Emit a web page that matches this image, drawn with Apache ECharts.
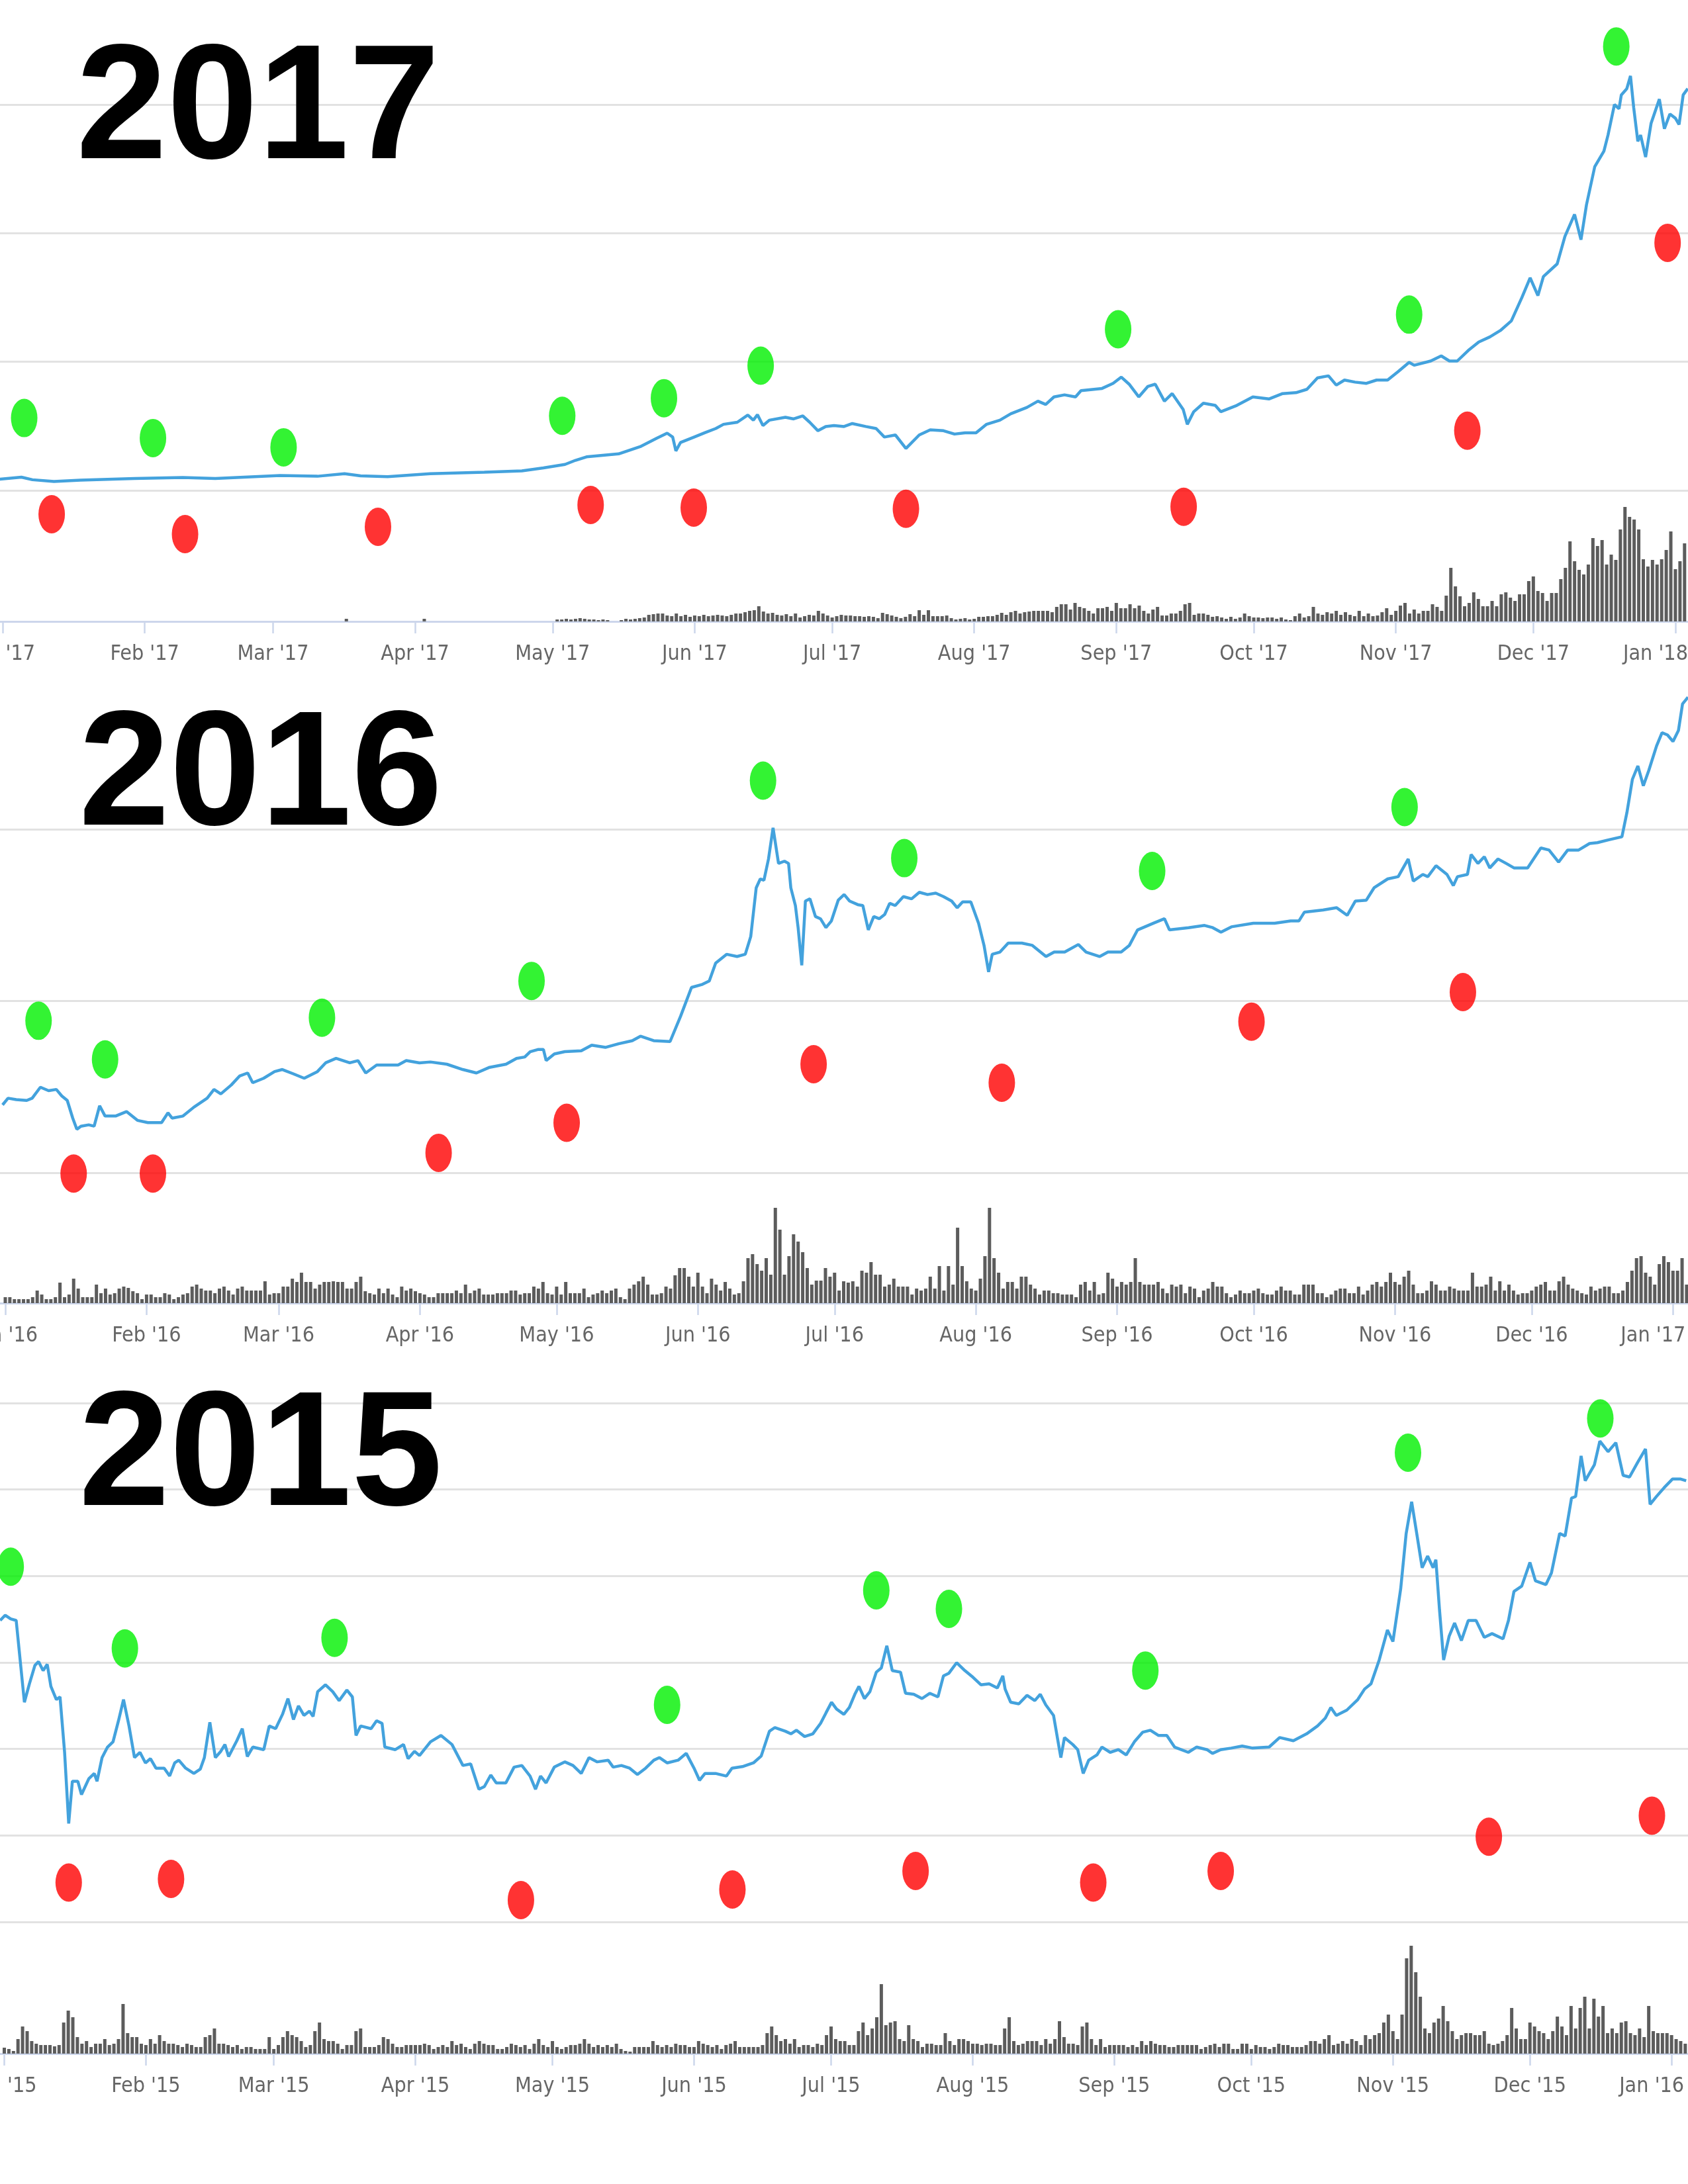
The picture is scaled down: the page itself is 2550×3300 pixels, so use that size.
<!DOCTYPE html>
<html><head><meta charset="utf-8">
<script src="https://cdn.jsdelivr.net/npm/echarts@6/dist/echarts.min.js"></script>
<style>html,body{margin:0;padding:0;background:#fff}#c{width:2550px;height:3300px}</style>
</head><body><div id="c"></div>
<script>
const MONTHS = ['Jan','Feb','Mar','Apr','May','Jun','Jul','Aug','Sep','Oct','Nov','Dec'];
const titles = ['2017','2016','2015'];

// ---- 2017 ---- (day offsets from Jan 1; price in units of one gridline step = 100)
const days17 = [-0.6,4.1,6.5,11.2,17.0,28.8,39.3,46.4,60.5,68.7,74.6,78.1,84.0,93.3,105.1,113.3,118.0,122.7,125.0,127.4,134.4,139.1,142.7,145.0,146.2,146.9,147.9,150.9,153.2,155.6,157.3,160.3,162.6,163.8,164.7,165.9,167.3,170.8,172.6,174.6,176.1,177.9,179.6,181.4,
183.6,185.4,188.3,190.6,192.4,194.8,197.1,200.0,202.4,205.3,207.7,210.0,212.4,214.7,217.6,220.0,223.5,225.9,227.6,229.4,231.7,234.1,235.3,239.9,242.3,244.1,245.8,247.9,249.9,251.5,253.5,255.2,257.6,258.5,259.9,262.0,264.6,265.8,269.3,272.8,276.3,279.3,282.2,284.6,286.9,289.3,291.0,292.8,295.1,297.5,299.8,302.2,304.5,306.9,308.0,311.6,313.9,315.7,317.4,319.8,322.1,324.5,326.8,329.2,331.5,333.3,335.0,336.2,339.2,340.9,343.0,344.4,345.6,347.4,349.4,350.3,351.7,352.7,353.2,354.4,355.2,355.9,356.8,357.4,358.5,359.7,361.5,362.6,363.8,365.0,365.8,366.7,367.7];
const price17 = [8.7,10.3,8.3,7.0,8.0,9.3,10.0,9.3,11.6,11.0,13.0,11.3,10.7,13.0,14.2,15.2,17.5,20.2,23.4,26.1,28.4,34.0,40.5,44.5,41.5,30.7,37.2,41.5,44.8,48.1,51.4,53.0,58.6,54.6,58.9,50.4,54.6,56.9,55.6,57.9,53.0,46.4,49.7,50.4,
49.7,52.0,49.7,48.1,41.5,43.1,32.6,43.1,47.1,46.4,43.8,44.8,44.8,51.4,54.6,59.6,64.5,69.4,66.8,72.7,74.3,72.7,77.6,79.3,83.2,88.1,82.6,72.7,80.9,82.6,69.4,75.3,62.9,51.4,61.2,67.8,66.1,61.2,66.1,72.7,71.1,75.3,76.0,78.6,87.5,89.1,81.9,85.8,84.2,83.2,85.8,85.8,92.4,99.6,97.3,100.6,104.6,100.6,100.6,108.8,115.4,119.3,124.3,131.8,149.9,165.3,151.5,166.3,176.1,197.5,214.6,194.9,222.1,251.7,263.8,276.3,300.0,296.7,307.5,312.4,322.3,297.7,271.4,276.3,259.2,285.5,304.2,281.2,292.7,289.4,284.5,307.5,312.4];
const vol17 = [0,0,0,0,0,0,0,0,0,0,0,0,0,0,0,0,0,0,0,0,0,0,0,0,0,0,0,0,0,0,0,0,0,0,0,0,0,0,0,0,0,0,0,0,0,0,0,0,0,0,0,0,0,0,0,0,0,0,0,0,0,0,0,0,0,0,0,0,0,0,0,0,0,0,0,
4,0,0,0,0,0,0,0,0,0,0,0,0,0,0,0,0,4,0,0,0,0,0,0,0,0,0,0,0,0,0,0,0,0,0,0,0,0,0,0,0,0,0,0,0,0,
3,3,4,3,4,5,4,3,3,2,3,2,0,0,2,4,3,4,5,6,
10,11,12,12,9,8,12,8,10,7,9,8,10,8,9,10,9,8,10,12,
12,14,16,17,23,15,12,13,10,9,
11,8,12,6,8,10,9,16,12,9,6,8,10,
9,9,8,8,7,8,7,5,13,11,9,7,5,7,11,8,17,10,17,8,8,8,9,5,3,4,5,3,4,7,7,8,8,10,13,10,14,16,12,14,15,16,16,16,16,14,22,26,26,18,28,22,20,16,12,20,20,22,16,28,20,20,26,20,24,16,12,18,22,9,9,12,12,16,26,28,10,
12,12,10,7,8,6,4,7,4,6,12,8,6,6,5,6,6,4,6,3,2,8,12,6,8,22,12,10,14,12,16,10,14,10,8,16,8,12,8,9,14,20,10,16,24,28,12,18,12,16,16,26,22,16,39,
81,53,38,23,28,44,34,23,23,31,23,41,44,36,31,41,41,61,68,46,43,31,43,43,64,
81,121,91,78,71,86,126,114,123,86,101,93,139,173,158,154,139,94,83,93,86,94,108,136,79,91,118];
const greenDay17 = [4.7,32.8,61.3,122.1,144.3,165.4,243.4,306.9,352.1];
const greenVal17 = [56.3,40.7,33.5,58.0,71.7,97.0,125.3,136.7,345.2];
const redDay17 = [10.7,39.8,81.9,128.3,150.8,197.1,257.7,319.6,363.3];
const redVal17 = [-18.5,-34.0,-28.3,-11.3,-13.4,-14.3,-12.7,46.4,192.5];

// ---- 2016 ----
const days16 = [-0.6,0.6,2.4,4.7,5.9,7.7,9.5,11.2,12.4,13.6,14.8,15.7,16.6,18.3,19.5,20.7,21.9,24.2,26.6,29.0,31.3,34.3,35.7,36.6,39.0,41.4,44.3,45.8,47.3,49.6,51.4,53.2,54.3,56.7,59.1,60.8,63.2,65.6,68.5,70.3,72.6,75.6,77.4,79.1,81.5,83.9,86.2,88.0,90.9,93.3,96.9,100.4,103.4,106.3,109.9,112.2,114.0,115.2,117.0,118.1,118.7,120.5,122.8,126.4,128.7,131.7,134.6,137.6,139.4,142.3,145.9,148.2,150.6,153.0,154.5,155.9,158.3,160.6,162.4,163.6,164.8,165.7,166.5,167.5,168.5,169.7,171.0,171.9,172.4,173.4,174.0,174.8,175.6,176.6,177.8,178.9,180.1,181.3,182.8,
184.1,185.3,187.1,188.2,189.4,190.6,191.8,193.0,194.1,195.3,197.1,198.9,200.6,202.4,204.2,205.9,207.7,208.9,210.1,211.9,213.6,214.8,215.8,216.6,218.3,220.1,223.1,225.4,228.4,230.2,232.5,235.5,237.2,240.2,242.0,244.9,246.7,248.5,252.0,254.4,255.5,259.7,263.2,265.0,266.8,269.1,273.9,278.6,282.1,283.9,285.1,289.2,292.2,294.5,296.3,298.7,300.4,303.4,305.7,307.9,309.0,311.1,312.2,314.0,316.4,317.8,318.7,320.9,321.7,323.2,324.6,325.8,327.6,329.4,331.1,334.1,337.0,338.8,340.9,342.9,345.3,347.7,349.4,351.8,354.8,355.9,357.1,358.3,359.5,360.7,362.4,363.6,364.8,366.0,367.2,368.1,369.3];
const price16 = [39.5,43.4,42.6,42.1,43.4,49.8,47.8,48.5,44.7,42.1,31.8,25.3,27.1,27.9,27.1,39.0,33.0,33.0,35.6,30.5,29.2,29.2,34.9,31.8,33.0,38.2,43.4,48.5,45.9,51.1,56.3,58.1,52.4,55.0,58.9,60.1,57.6,55.0,58.9,64.0,66.6,64.0,65.3,58.1,62.7,62.7,62.7,65.3,64.0,64.5,63.2,60.1,58.1,61.4,63.2,66.6,67.4,70.5,71.8,71.8,65.3,69.2,70.5,71.0,74.3,73.0,75.1,76.9,79.5,76.9,76.4,91.1,107.9,109.7,111.7,122.1,127.2,125.9,127.2,137.5,165.9,171.1,170.3,182.7,200.8,180.1,181.4,180.1,165.9,155.6,142.7,120.8,158.2,159.5,149.2,147.9,142.7,146.6,158.7,
162.0,158.2,156.1,155.6,141.4,149.2,147.9,150.4,156.9,155.6,160.8,159.5,163.3,162.0,162.8,160.8,158.2,154.3,157.7,157.7,145.3,132.4,116.9,127.2,128.5,133.7,133.7,132.4,125.9,128.5,128.5,132.9,128.5,125.9,128.5,128.5,132.4,141.4,145.3,147.9,141.4,142.7,144.0,142.7,140.1,143.2,145.3,145.3,146.6,146.6,151.7,153.0,154.3,149.9,158.2,158.7,165.9,171.1,172.4,182.7,169.8,173.7,172.4,178.8,173.7,167.2,172.4,173.7,185.3,180.1,184.0,177.5,182.7,180.1,177.5,177.5,189.1,187.9,180.9,187.9,187.9,191.7,192.2,193.8,195.6,209.8,229.1,236.9,225.3,234.3,248.5,256.2,254.9,251.1,257.5,273.0,276.9];
const vol16 = [9,9,6,6,6,6,9,19,13,6,6,9,31,9,13,37,22,9,9,9,28,15,22,13,15,22,25,23,18,15,6,13,13,9,9,15,13,6,9,13,15,25,28,22,19,19,15,22,25,19,13,22,25,19,19,19,19,33,13,15,15,25,25,37,32,46,32,32,22,28,32,32,33,32,32,22,22,32,40,18,15,13,22,15,22,13,9,25,19,22,18,15,13,9,9,15,15,15,15,19,15,28,15,19,22,13,13,13,15,15,15,19,19,13,15,15,25,22,32,15,13,25,13,32,15,15,15,22,9,13,15,19,15,19,22,9,6,22,28,33,40,28,13,13,15,25,22,42,53,53,40,25,46,25,15,37,28,19,32,22,13,15,33,68,74,59,49,68,43,144,111,43,71,104,93,77,53,28,34,34,53,40,46,19,
33,31,33,25,49,46,62,43,43,25,28,37,25,25,25,13,22,19,22,40,22,56,19,56,28,114,56,33,22,19,37,71,144,68,46,22,32,32,22,40,40,28,22,13,19,19,15,15,13,13,13,9,28,32,19,32,13,15,46,37,25,32,28,32,68,32,28,28,28,32,22,15,28,25,28,15,25,22,9,19,22,32,25,25,15,9,13,19,15,15,19,22,15,13,13,19,25,19,19,13,13,28,28,28,15,15,9,13,19,22,22,15,15,25,13,19,28,32,25,32,46,32,28,40,49,28,15,15,19,33,28,19,19,25,22,19,19,19,46,25,25,28,40,19,33,19,28,19,13,15,15,19,25,28,32,19,19,33,40,28,22,19,15,13,25,19,22,25,25,15,15,19,32,49,68,71,46,40,28,59,71,62,49,49,68,28];
const greenDay16 = [7.3,21.9,69.5,115.5,166.3,197.3,251.7,307.1];
const greenVal16 = [88.5,66.0,90.3,111.7,228.3,183.2,175.7,212.9];
const redDay16 = [15.0,32.4,95.1,123.2,177.4,218.7,273.5,319.9];
const redVal16 = [-0.5,-0.5,11.6,29.1,63.2,52.4,88.0,105.2];

// ---- 2015 ----
const days15 = [-0.9,0.2,1.4,2.6,4.4,5.5,6.7,7.5,8.5,9.4,10.2,11.4,12.2,13.2,14.1,14.9,16.1,16.9,18.5,19.7,20.3,21.4,22.6,23.8,25.0,26.1,27.3,28.5,29.7,30.9,32.0,33.2,35.0,36.2,37.3,38.2,39.7,41.5,42.9,43.8,45.0,46.2,47.4,48.3,49.1,50.9,52.1,53.2,54.4,56.8,58.0,59.4,60.9,62.1,63.3,64.4,65.6,66.8,67.6,68.6,70.3,71.9,73.3,75.0,76.2,77.0,78.0,80.3,81.5,82.7,83.3,85.6,87.4,88.4,89.8,90.9,93.3,95.6,98.0,100.4,102.1,103.9,105.1,106.5,107.7,109.8,111.6,113.3,115.1,116.3,117.4,118.6,120.4,122.7,124.5,126.3,128.0,129.8,132.2,133.3,135.1,136.9,138.6,140.4,142.2,143.4,145.1,147.5,149.3,151.0,152.2,153.4,155.7,158.1,159.3,161.6,164.0,165.7,167.5,168.7,171.0,172.2,173.4,175.2,177.0,178.7,179.9,181.1,182.2,
183.8,185.0,186.2,187.1,188.3,189.5,190.9,192.0,193.2,194.4,196.2,197.3,199.1,200.9,202.6,204.4,205.6,206.8,208.5,210.3,212.1,213.8,215.6,217.4,218.6,219.1,220.3,222.1,223.9,225.6,226.8,228.0,229.7,230.7,231.3,232.1,233.9,235.0,236.2,237.4,239.2,240.3,242.1,243.9,245.6,247.4,249.2,250.9,252.7,254.5,256.2,259.2,261.0,263.3,264.5,266.3,268.6,271.0,273.3,276.9,279.2,282.2,285.1,287.5,289.2,290.4,291.6,293.9,296.3,297.8,299.2,301.0,302.8,304.0,305.7,306.9,308.1,309.3,310.4,311.6,312.8,313.4,314.2,315.1,316.3,317.5,319.0,320.5,322.2,324.0,325.7,328.1,329.3,330.5,332.2,334.0,335.2,337.5,338.7,340.5,341.7,343.1,344.0,345.2,346.1,348.1,349.3,351.1,352.8,354.4,355.8,357.6,359.3,360.3,361.7,363.4,365.2,367.0,368.2];
const price15 = [348.6,354.7,350.4,348.6,254.0,275.4,296.7,301.0,290.6,297.9,272.4,257.1,260.2,196.1,113.8,162.6,162.6,147.3,165.6,171.7,162.6,190.0,202.2,208.3,232.7,257.1,226.6,190.0,196.1,183.9,188.8,177.8,177.8,168.7,183.9,187.0,177.8,171.7,176.6,190.0,230.9,190.0,197.3,205.2,191.2,209.5,223.5,191.2,202.2,199.2,226.6,223.5,240.0,258.3,234.0,249.8,238.8,243.7,237.6,266.2,274.2,266.2,255.9,268.1,260.2,215.6,226.6,223.5,232.7,229.6,202.2,199.2,205.2,188.8,197.3,192.4,208.3,215.6,205.2,180.9,182.7,153.4,156.5,169.9,160.7,160.7,179.0,180.9,168.7,153.4,168.7,160.7,179.0,185.1,180.9,171.7,190.0,185.1,187.0,179.0,180.9,177.8,170.5,177.8,187.0,190.0,183.9,187.0,194.9,177.8,163.8,171.7,171.7,168.7,177.8,179.6,183.9,191.8,220.5,224.8,220.5,217.5,221.7,214.4,217.5,229.6,241.9,254.0,246.1,
240.0,248.0,263.2,272.4,258.3,266.2,288.8,293.7,319.3,290.6,288.8,264.4,263.2,258.3,264.4,260.2,284.5,287.6,299.8,290.6,282.7,274.2,275.4,270.5,284.5,269.3,254.1,252.2,262.0,255.9,263.2,251.0,238.8,208.3,190.0,213.2,205.2,199.2,171.7,187.0,193.1,202.2,196.1,199.2,193.1,208.3,219.3,221.7,215.6,215.6,202.2,196.1,202.2,199.2,194.9,199.2,201.0,203.4,201.0,202.2,213.2,209.5,217.5,226.6,235.7,248.0,238.8,244.9,257.1,269.3,275.4,302.9,337.6,324.2,385.2,449.2,485.9,446.2,409.6,423.0,409.6,418.8,360.8,302.9,330.3,345.6,325.4,348.6,348.6,329.1,333.4,327.3,348.6,382.2,388.3,415.7,394.4,390.1,403.5,449.2,446.2,490.1,491.9,538.9,510.2,528.5,556.0,543.8,554.2,516.4,514.5,531.6,546.9,482.8,492.0,502.3,512.1,512.1,510.2];
const vol15 = [9,7,4,22,41,34,19,15,13,13,13,11,13,47,65,55,25,15,19,10,15,15,22,13,15,22,75,31,25,25,15,13,22,15,28,19,15,15,13,10,15,13,10,10,25,28,38,15,15,13,10,13,7,10,10,7,7,7,25,7,13,25,34,28,25,19,10,13,34,47,22,19,19,15,7,13,13,34,38,10,10,10,13,25,22,15,10,10,13,13,13,13,15,13,7,10,13,10,19,13,15,10,7,15,19,15,13,13,7,7,10,15,13,10,13,7,15,22,13,10,19,10,7,10,13,13,15,22,15,10,13,10,13,10,15,7,4,3,10,10,10,10,19,13,10,13,10,15,13,13,10,10,19,15,13,10,13,7,13,15,19,10,10,10,10,10,13,31,41,28,19,22,15,22,10,13,13,10,15,13,28,41,22,19,
19,13,13,34,47,28,38,55,105,43,47,49,22,19,43,22,19,10,15,15,13,13,31,19,13,22,22,19,15,15,13,15,15,13,13,38,55,19,13,15,19,19,19,13,22,15,22,49,25,15,15,13,41,47,22,13,22,10,13,13,13,13,10,13,10,19,13,19,15,13,13,10,10,13,13,13,13,13,7,10,13,15,10,15,15,7,7,15,15,7,13,10,10,7,10,15,13,13,10,10,10,13,19,19,15,22,28,13,15,19,15,22,19,13,28,22,28,31,47,59,34,22,59,144,163,123,86,38,31,47,53,72,49,34,22,28,31,31,28,28,34,15,13,15,19,28,69,38,22,22,47,41,34,31,22,34,56,41,28,72,38,69,86,38,83,56,72,31,38,31,47,49,31,28,38,25,72,34,31,31,31,28,22,19,15];
const greenDay15 = [1.4,26.4,72.3,145.1,190.9,206.8,249.8,307.3,349.4];
const greenVal15 = [410.8,316.3,328.5,251.0,383.4,362.0,290.7,542.6,582.2];
const redDay15 = [14.1,36.5,113.1,159.4,199.5,238.4,266.3,325.0,360.7];
const redVal15 = [45.5,49.7,25.3,37.5,58.9,45.5,58.9,98.5,122.9];

// ---- layout (pixels) ----
const DAY = 86400000;
const ts = (year, d) => Date.UTC(year, 0, 1) + d * DAY;
const panels = [
  {year:2017, days:days17, price:price17, vol:vol17, gD:greenDay17, gV:greenVal17, rD:redDay17, rV:redVal17,
   pTop:158, pBot:741, pMax:300, vBot:939, vH:180, xMin:-0.578, xMax:367.75, tx:115, ty:171},
  {year:2016, days:days16, price:price16, vol:vol16, gD:greenDay16, gV:greenVal16, rD:redDay16, rV:redVal16,
   pTop:1253, pBot:1772, pMax:200, vBot:1969, vH:150, xMin:-1.162, xMax:369.3, tx:119, ty:1178},
  {year:2015, days:days15, price:price15, vol:vol15, gD:greenDay15, gV:greenVal15, rD:redDay15, rV:redVal15,
   pTop:2120, pBot:2904, pMax:600, vBot:3103, vH:170, xMin:-0.942, xMax:368.6, tx:119, ty:2206}
];
const ELLIPSE = 'path://M0,-1A1,1,0,1,1,0,1A1,1,0,1,1,0,-1Z';
const BAR_W = 5;
const LABEL_FONT = '"DejaVu Sans Condensed", "Liberation Sans", sans-serif';
const makeFmt = (year) => (v) => {
  const dt = new Date(v);
  if (dt.getUTCDate() !== 1 || dt.getUTCHours() !== 0) return '';
  const txt = MONTHS[dt.getUTCMonth()] + " '" + String(dt.getUTCFullYear()).slice(2);
  return dt.getUTCFullYear() > year ? '{e|' + txt + '}' : txt;
};
const volItem = (params, api) => {
  const t = api.value(0), v = api.value(1);
  const top = api.coord([t, v]);
  const base = api.coord([t, 0]);
  return {type:'rect', shape:{x:top[0] - BAR_W / 2, y:top[1], width:BAR_W, height:base[1] - top[1]},
    style:{fill:'#5c5c5c'}};
};

const grid = [], xAxis = [], yAxis = [], series = [], graphic = [];
panels.forEach((p, i) => {
  const gi = i * 2;
  grid.push({left:0, right:0, top:p.pTop, height:p.pBot - p.pTop, containLabel:false, outerBoundsMode:'none'});
  grid.push({left:0, right:0, top:p.vBot - p.vH, height:p.vH, containLabel:false, outerBoundsMode:'none'});
  const xmin = ts(p.year, p.xMin), xmax = ts(p.year, p.xMax);
  xAxis.push({type:'time', gridIndex:gi, min:xmin, max:xmax, show:false});
  xAxis.push({type:'time', gridIndex:gi+1, min:xmin, max:xmax, splitNumber:12,
    minInterval:28*DAY, maxInterval:31*DAY,
    axisLine:{show:true, lineStyle:{color:'#ccd6eb', width:3}},
    axisTick:{show:true, length:18, lineStyle:{color:'#ccd6eb', width:2.5}},
    axisLabel:{show:true, formatter:makeFmt(p.year), color:'#666666', fontSize:32,
      fontFamily:LABEL_FONT, margin:34,
      rich:{e:{padding:[0, 60, 0, 0], fontSize:32, color:'#666666', fontFamily:LABEL_FONT}}},
    splitLine:{show:false}});
  yAxis.push({type:'value', gridIndex:gi, min:0, max:p.pMax, interval:100,
    axisLine:{show:false}, axisTick:{show:false}, axisLabel:{show:false},
    splitLine:{show:true, lineStyle:{color:'#e2e2e2', width:3}}});
  yAxis.push({type:'value', gridIndex:gi+1, min:0, max:p.vH, show:false, splitLine:{show:false}});
  series.push({type:'custom', xAxisIndex:gi+1, yAxisIndex:gi+1, renderItem:volItem, encode:{x:0, y:1},
    data:p.vol.map((v, k) => [ts(p.year, k), v]), z:2});
  series.push({type:'line', xAxisIndex:gi, yAxisIndex:gi, showSymbol:false, clip:false,
    lineStyle:{color:'#43a2dd', width:4.5}, data:p.days.map((d, k) => [ts(p.year, d), p.price[k]]), z:3});
  series.push({type:'scatter', xAxisIndex:gi, yAxisIndex:gi, clip:false, symbol:ELLIPSE, symbolSize:[40,58],
    itemStyle:{color:'#00f000'}, data:p.gD.map((d, k) => [ts(p.year, d), p.gV[k]]), z:5});
  series.push({type:'scatter', xAxisIndex:gi, yAxisIndex:gi, clip:false, symbol:ELLIPSE, symbolSize:[40,58],
    itemStyle:{color:'#ff0000'}, data:p.rD.map((d, k) => [ts(p.year, d), p.rV[k]]), z:5});
  graphic.push({type:'text', x:p.tx, y:p.ty, z:10, style:{text:titles[i], fontSize:247, fontWeight:'bold',
    fontFamily:'"Liberation Sans", Arial, sans-serif', fill:'#000', verticalAlign:'middle', align:'left'}});
});

const chart = echarts.init(document.getElementById('c'), null, {renderer:'canvas'});
chart.setOption({backgroundColor:'#ffffff', animation:false, useUTC:true, grid, xAxis, yAxis, series, graphic});
</script>
</body></html>
